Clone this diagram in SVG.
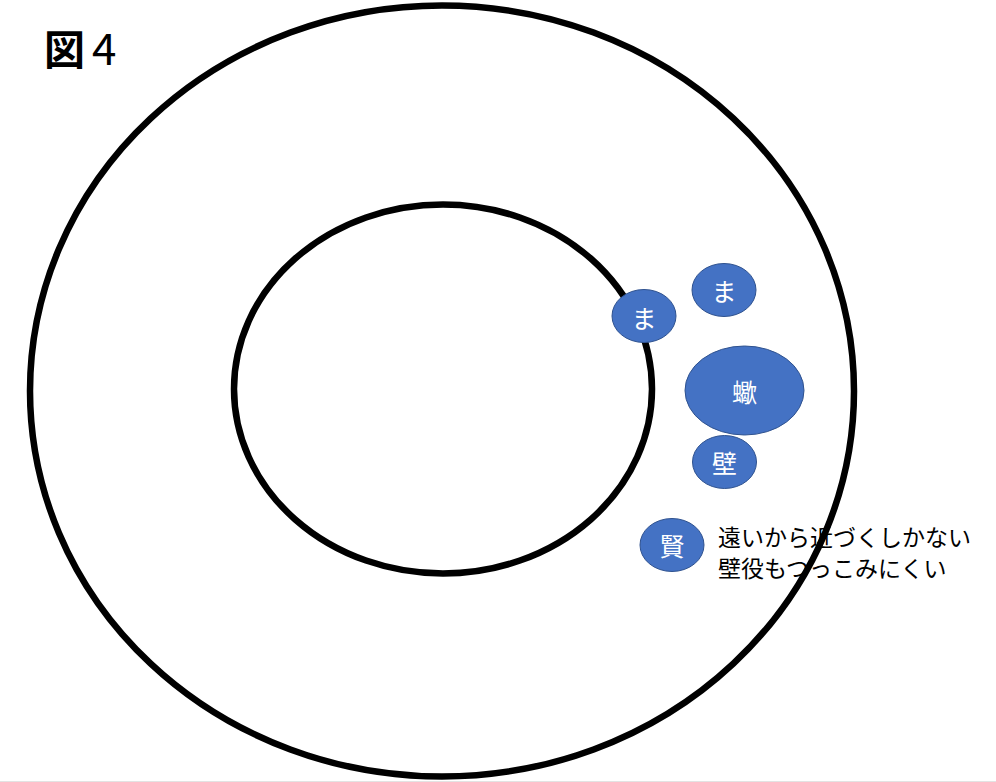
<svg xmlns="http://www.w3.org/2000/svg" width="996" height="782" viewBox="0 0 996 782">
<style>
.ring{fill:none;stroke:#000;stroke-width:6.5}
.node ellipse{fill:#4472C4;stroke:#2F528F;stroke-width:1}
.node text{fill:#fff;font-family:"Noto Sans CJK JP","Noto Sans",sans-serif;font-size:25px;text-anchor:middle;dominant-baseline:central}
.note{fill:#000;font-family:"Noto Sans CJK JP","Noto Sans",sans-serif;font-size:23px}
</style>
<rect width="996" height="782" fill="#fff"/>
<rect x="0" y="781" width="996" height="1" fill="#e3e3e3"/>
<g id="title" font-family="'Noto Sans CJK JP','Noto Sans',sans-serif" fill="#000">
<text x="44" y="65" font-size="41" font-weight="700">図</text>
<text x="92" y="65" font-size="44" font-weight="400">4</text>
</g>
<g id="outer-ring"><ellipse class="ring" cx="442" cy="391" rx="412" ry="385.5"/></g>
<g id="inner-ring"><ellipse class="ring" cx="443" cy="389" rx="209" ry="184.5"/></g>
<g id="connectors"></g>
<g id="node-ma1" class="node"><ellipse cx="644" cy="316" rx="32" ry="26.5"/><text x="644" y="317">ま</text></g>
<g id="node-ma2" class="node"><ellipse cx="724" cy="290" rx="32" ry="26.5"/><text x="724" y="290">ま</text></g>
<g id="node-sasori" class="node"><ellipse cx="744.5" cy="390.5" rx="59.5" ry="44.5"/><text x="744.5" y="391">蠍</text></g>
<g id="node-kabe" class="node"><ellipse cx="724.5" cy="462" rx="32" ry="26.5"/><text x="724.5" y="462">壁</text></g>
<g id="node-ken" class="node"><ellipse cx="672" cy="545" rx="32" ry="26.5"/><text x="672" y="545">賢</text></g>
<g id="note">
<text class="note" x="718" y="546">遠いから近づくしかない</text>
<text class="note" x="718" y="577">壁役もつっこみにくい</text>
</g>
</svg>
